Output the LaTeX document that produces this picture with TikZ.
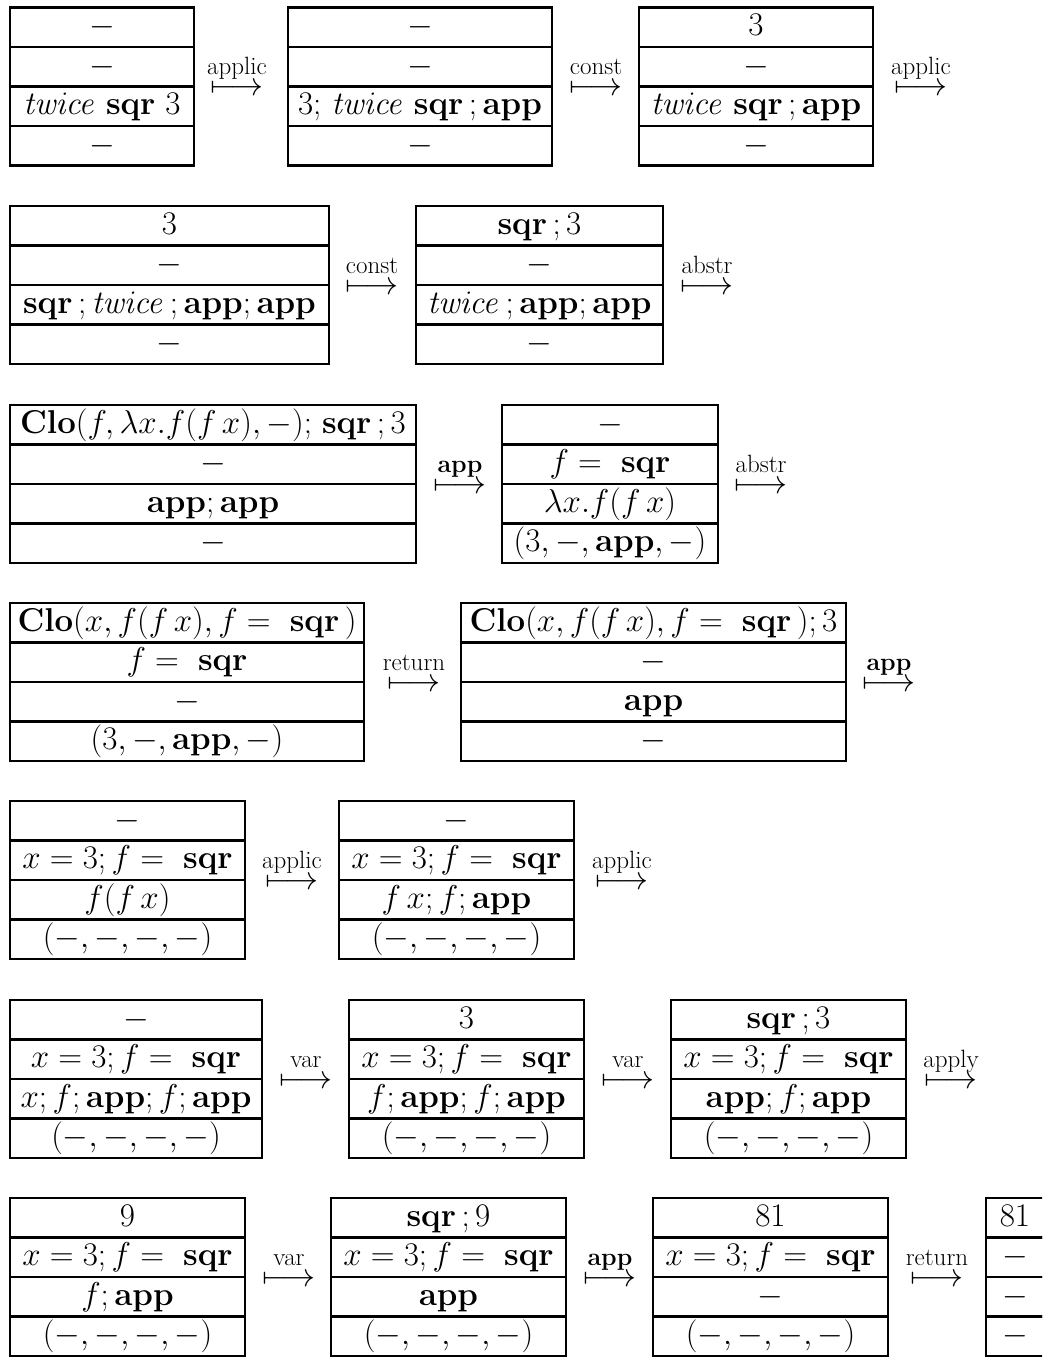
\RequirePackage{fix-cm}
\documentclass[tikz,border=0pt]{standalone}
\newcommand\bigfont{\fontsize{33}{40}\selectfont}
\newcommand\lblfont{\fontsize{25}{30}\selectfont}
\tikzset{
  cellbox/.style={draw, line width=2.4pt, inner sep=0pt, outer sep=0pt,
    minimum height=39.5pt, text height=25pt, text depth=8.5pt, font=\bigfont},
  trans/.style={anchor=base, inner sep=0pt, outer sep=0pt, font=\bigfont,
    text height=10pt, text depth=0pt},
  translabel/.style={anchor=base, inner sep=0pt, outer sep=0pt, font=\lblfont,
    text depth=0pt}
}
% name, left, right, top, four cells
\newcommand\stbox[8]{%
  \pgfmathsetmacro\bw{#3-#2}%
  \pgfmathsetmacro\bx{(#2+#3)/2}%
  \node[cellbox, minimum width=\bw pt] (#1-1) at (\bx, #4+19.75) {#5};
  \node[cellbox, minimum width=\bw pt] (#1-2) at (\bx, #4+59.25) {#6};
  \node[cellbox, minimum width=\bw pt] (#1-3) at (\bx, #4+98.75) {#7};
  \node[cellbox, minimum width=\bw pt] (#1-4) at (\bx, #4+138.25) {#8};
}
% name, centre x, top of row, label
\newcommand\trarrow[4]{%
  \node[trans] (#1) at (#2, #3+88) {$\longmapsto$};
  \node[translabel] (#1-l) at (#2, #3+67) {#4};
}
\newcommand\fs{f=\ \mathbf{sqr}}
\newcommand\xfs{x=3;\fs}
\begin{document}
\begin{tikzpicture}[x=1pt, y=-1pt]
\useasboundingbox (0,0) rectangle (1042,1357);
\clip (0,0) rectangle (1042,1357);
% row 1
\stbox{A}{10}{194}{7.5}{$-$}{$-$}{$\mathit{twice}\ \mathbf{sqr}\ 3$}{$-$}
\trarrow{t1}{237}{7.5}{applic}
\stbox{B}{288}{552}{7.5}{$-$}{$-$}{$3{;}\ \mathit{twice}\ \mathbf{sqr}\,;\mathbf{app}$}{$-$}
\trarrow{t2}{596}{7.5}{const}
\stbox{C}{639}{873}{7.5}{$3$}{$-$}{$\mathit{twice}\ \mathbf{sqr}\,;\mathbf{app}$}{$-$}
\trarrow{t3}{921}{7.5}{applic}
% row 2
\stbox{D}{10}{329}{206}{$3$}{$-$}{$\mathbf{sqr}\,;\mathit{twice}\,;\mathbf{app};\mathbf{app}$}{$-$}
\trarrow{t4}{372}{206}{const}
\stbox{E}{416}{663}{206}{$\mathbf{sqr}\,;3$}{$-$}{$\mathit{twice}\,;\mathbf{app};\mathbf{app}$}{$-$}
\trarrow{t5}{707}{206}{abstr}
% row 3
\stbox{F}{10}{416}{405}{$\mathbf{Clo}(f,\lambda x.f(f\,x),-){;}\ \mathbf{sqr}\,;3$}{$-$}{$\mathbf{app};\mathbf{app}$}{$-$}
\trarrow{t6}{460}{405}{\bfseries app}
\stbox{G}{502}{718}{405}{$-$}{$\fs$}{$\lambda x.f(f\,x)$}{$(3,-,\mathbf{app},-)$}
\trarrow{t7}{761}{405}{abstr}
% row 4
\stbox{H}{10}{364}{603}{$\mathbf{Clo}(x,f(f\,x),\fs\,)$}{$\fs$}{$-$}{$(3,-,\mathbf{app},-)$}
\trarrow{t8}{414}{603}{return}
\stbox{I}{461}{846}{603}{$\mathbf{Clo}(x,f(f\,x),\fs\,);3$}{$-$}{$\mathbf{app}$}{$-$}
\trarrow{t9}{889}{603}{\bfseries app}
% row 5
\stbox{J}{10}{245}{801}{$-$}{$\xfs$}{$f(f\,x)$}{$(-,-,-,-)$}
\trarrow{t10}{292}{801}{applic}
\stbox{K}{339}{574}{801}{$-$}{$\xfs$}{$f\,x;f;\mathbf{app}$}{$(-,-,-,-)$}
\trarrow{t11}{622}{801}{applic}
% row 6
\stbox{L}{10}{262}{1000}{$-$}{$\xfs$}{$x;f;\mathbf{app};f;\mathbf{app}$}{$(-,-,-,-)$}
\trarrow{t12}{306}{1000}{var}
\stbox{M}{349}{584}{1000}{$3$}{$\xfs$}{$f;\mathbf{app};f;\mathbf{app}$}{$(-,-,-,-)$}
\trarrow{t13}{628}{1000}{var}
\stbox{N}{671}{906}{1000}{$\mathbf{sqr}\,;3$}{$\xfs$}{$\mathbf{app};f;\mathbf{app}$}{$(-,-,-,-)$}
\trarrow{t14}{951}{1000}{apply}
% row 7
\stbox{O}{10}{245}{1198}{$9$}{$\xfs$}{$f;\mathbf{app}$}{$(-,-,-,-)$}
\trarrow{t15}{289}{1198}{var}
\stbox{P}{331}{566}{1198}{$\mathbf{sqr}\,;9$}{$\xfs$}{$\mathbf{app}$}{$(-,-,-,-)$}
\trarrow{t16}{610}{1198}{\bfseries app}
\stbox{Q}{653}{888}{1198}{$81$}{$\xfs$}{$-$}{$(-,-,-,-)$}
\trarrow{t17}{937}{1198}{return}
\stbox{R}{986}{1044}{1198}{$81$}{$-$}{$-$}{$-$}
\end{tikzpicture}
\end{document}
